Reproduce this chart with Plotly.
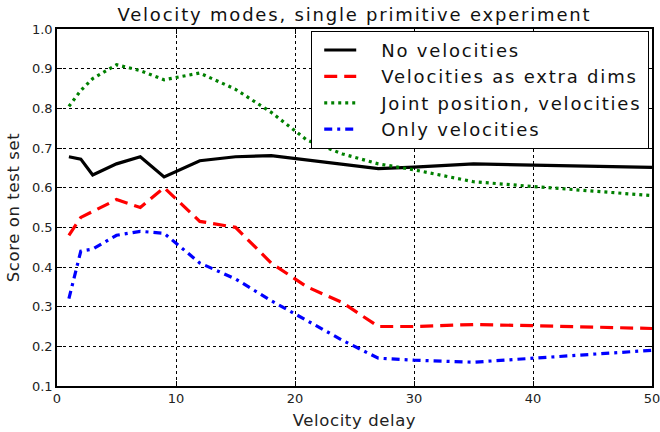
import plotly.graph_objects as go

delay = [1, 2, 3, 5, 7, 9, 12, 15, 18, 21, 24, 27, 30, 35, 40, 45, 50]
no_vel = [0.678, 0.672, 0.632, 0.660, 0.678, 0.627, 0.668, 0.678, 0.681, 0.670,
          0.657, 0.648, 0.652, 0.660, 0.657, 0.654, 0.651]
extra_dims = [0.48, 0.525, 0.54, 0.57, 0.55, 0.60, 0.515, 0.50, 0.41, 0.35,
              0.31, 0.25, 0.25, 0.255, 0.252, 0.248, 0.245]
joint = [0.805, 0.845, 0.875, 0.910, 0.895, 0.872, 0.889, 0.848, 0.790, 0.720,
         0.685, 0.660, 0.645, 0.615, 0.603, 0.592, 0.580]
only_vel = [0.32, 0.44, 0.445, 0.48, 0.49, 0.485, 0.41, 0.37, 0.315, 0.265,
            0.215, 0.17, 0.165, 0.16, 0.17, 0.178, 0.19]

names = ["No velocities", "Velocities as extra dims",
         "Joint position, velocities", "Only velocities"]
x_ticks = [0, 10, 20, 30, 40, 50]
y_ticks = [0.1, 0.2, 0.3, 0.4, 0.5, 0.6, 0.7, 0.8, 0.9, 1.0]

FONT = "DejaVu Sans"
fig = go.Figure()
styles = [("black", "solid"), ("red", "13px,7px"), ("green", "3px,4px"), ("blue", "8px,5px,3px,5px")]
for ys, name, (c, d) in zip([no_vel, extra_dims, joint, only_vel], names, styles):
    fig.add_trace(go.Scatter(x=delay, y=ys, mode="lines", name=name,
                             line=dict(color=c, width=3.2, dash=d)))

axis_common = dict(showline=True, linecolor="black", linewidth=1.5, mirror="allticks",
                   ticks="inside", ticklen=5, tickcolor="black", automargin=False,
                   ticklabeloverflow="allow",
                   showgrid=True, gridcolor="black", griddash="dot", gridwidth=1,
                   zeroline=False, tickfont=dict(family=FONT, size=13, color="#222"))
fig.update_xaxes(range=[0, 50], tickvals=x_ticks, title=dict(text="Velocity delay",
                 font=dict(family=FONT, size=16.5, color="#222"), standoff=9), **axis_common)
fig.update_yaxes(range=[0.1, 1.0], tickvals=y_ticks, tickformat=".1f",
                 title=dict(text="Score on test set", font=dict(family=FONT, size=16.5, color="#222"), standoff=8),
                 **axis_common)

fig.update_layout(
    width=660, height=432,
    margin=dict(l=57, r=8, t=29, b=46),
    paper_bgcolor="white", plot_bgcolor="white",
    title=dict(text="Velocity modes, single primitive experiment", x=0.537, xanchor="center",
               y=0.966, yanchor="middle", font=dict(family=FONT, size=18, color="#111")),
    legend=dict(x=0.995, xanchor="right", y=0.995, yanchor="top",
                bordercolor="black", borderwidth=1, bgcolor="white", itemwidth=59,
                font=dict(family=FONT, size=18, color="#111"), tracegroupgap=0),
    showlegend=True,
)

post = """
document.documentElement.style.margin = '0';
document.body.style.margin = '0';
document.body.style.overflow = 'hidden';
var gd = document.getElementById('{plot_id}');
function setLS(sel, v) { gd.querySelectorAll(sel).forEach(function (t) { t.style.letterSpacing = v; }); }
var texts = Array.prototype.slice.call(gd.querySelectorAll('.legendtext'));
var longest = 0;
texts.forEach(function (t) { longest = Math.max(longest, (t.textContent || '').length); });
setLS('.legendtext', '1.8px');
setLS('.gtitle', '1.8px');
setLS('.xtitle', '0.6px');
setLS('.ytitle', '0.6px');
var d = 1.8 * longest;
var leg = gd.querySelector('g.legend');
if (leg) {
  var bg = leg.querySelector('rect.bg');
  if (bg) bg.setAttribute('width', parseFloat(bg.getAttribute('width')) + d);
  var m = /translate\\(\\s*([-\\d.e]+)[\\s,]+([-\\d.e]+)\\s*\\)/.exec(leg.getAttribute('transform') || '');
  if (m) leg.setAttribute('transform', 'translate(' + (parseFloat(m[1]) - d) + ',' + m[2] + ')');
  leg.querySelectorAll('.legendlines path').forEach(function (p) { p.setAttribute('d', 'M12,0h32'); });
}
gd.querySelectorAll('clipPath').forEach(function (cp) {
  if (cp.id.indexOf('legend') === 0) {
    cp.querySelectorAll('rect').forEach(function (r) {
      r.setAttribute('width', parseFloat(r.getAttribute('width') || 0) + d);
    });
  }
});
"""
fig.write_html("out.html", post_script=post, config={"displayModeBar": False})
